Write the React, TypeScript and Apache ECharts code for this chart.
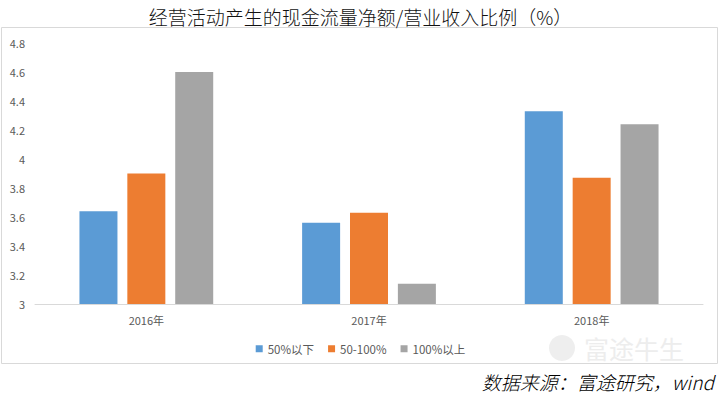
import React, { useEffect, useRef } from "react";
import * as echarts from "echarts";

const categories = ["2016年", "2017年", "2018年"];
const seriesNames = ["50%以下", "50-100%", "100%以上"];
const below50 = [3.64, 3.56, 4.33];
const mid50to100 = [3.9, 3.63, 3.87];
const above100 = [4.6, 3.14, 4.24];
const colors = ["#5B9BD5", "#ED7D31", "#A5A5A5"];

export default function App() {
  const ref = useRef<HTMLDivElement>(null);
  useEffect(() => {
    if (!ref.current) return;
    const chart = echarts.init(ref.current, null, { renderer: "svg" });
    const data = [below50, mid50to100, above100];
    chart.setOption({
      animation: false,
      backgroundColor: "#ffffff",
      title: {
        text: "经营活动产生的现金流量净额/营业收入比例（%）",
        left: "center",
        top: 2,
        textStyle: {
          fontFamily: "Noto Sans CJK SC",
          fontSize: 19,
          fontWeight: 300,
          color: "#111",
        },
      },
      graphic: [
        {
          type: "rect",
          shape: { x: 1.5, y: 27.5, width: 716, height: 336 },
          style: { fill: "none", stroke: "#d9d9d9", lineWidth: 1 },
          z: -1,
        },
        {
          type: "circle",
          shape: { cx: 562, cy: 348, r: 13 },
          style: { fill: "#eeeeee" },
          z: -1,
        },
        {
          type: "text",
          x: 584,
          y: 334,
          style: {
            text: "富途牛生",
            fontFamily: "Noto Sans CJK SC",
            fontSize: 25,
            lineHeight: 28,
            fill: "#ededed",
            verticalAlign: "top",
          },
          z: -1,
        },
        {
          type: "text",
          right: 7,
          top: 370,
          style: {
            text: "数据来源：富途研究，wind",
            fontFamily: "Noto Sans CJK SC",
            fontSize: 19,
            lineHeight: 22,
            fontWeight: 300,
            fontStyle: "italic",
            fill: "#000",
          },
        },
      ],
      legend: {
        data: seriesNames,
        left: "center",
        top: 338,
        icon: "rect",
        itemWidth: 7,
        itemHeight: 7,
        itemGap: 14,
        textStyle: { fontSize: 11.5, color: "#595959", fontFamily: "Noto Sans CJK SC" },
      },
      grid: { left: 35, right: 18, top: 43, bottom: 93, containLabel: false },
      xAxis: {
        type: "category",
        data: categories,
        axisLine: { lineStyle: { color: "#d9d9d9" } },
        axisTick: { show: false },
        axisLabel: { color: "#595959", fontSize: 11, margin: 10, fontFamily: "Noto Sans CJK SC" },
      },
      yAxis: {
        type: "value",
        min: 3,
        max: 4.8,
        interval: 0.2,
        axisLine: { show: false },
        axisTick: { show: false },
        splitLine: { show: false },
        axisLabel: {
          color: "#595959",
          fontSize: 11,
          margin: 10,
          fontFamily: "Noto Sans CJK SC",
          formatter: (v: number) => String(Math.round(v * 10) / 10),
        },
      },
      series: seriesNames.map((name, i) => ({
        name,
        type: "bar",
        data: data[i],
        barWidth: 38,
        barGap: "26%",
        itemStyle: { color: colors[i] },
      })),
    });
    return () => chart.dispose();
  }, []);
  return (
    <div
      ref={ref}
      style={{ position: "fixed", left: 0, top: 0, width: 721, height: 397 }}
    />
  );
}
